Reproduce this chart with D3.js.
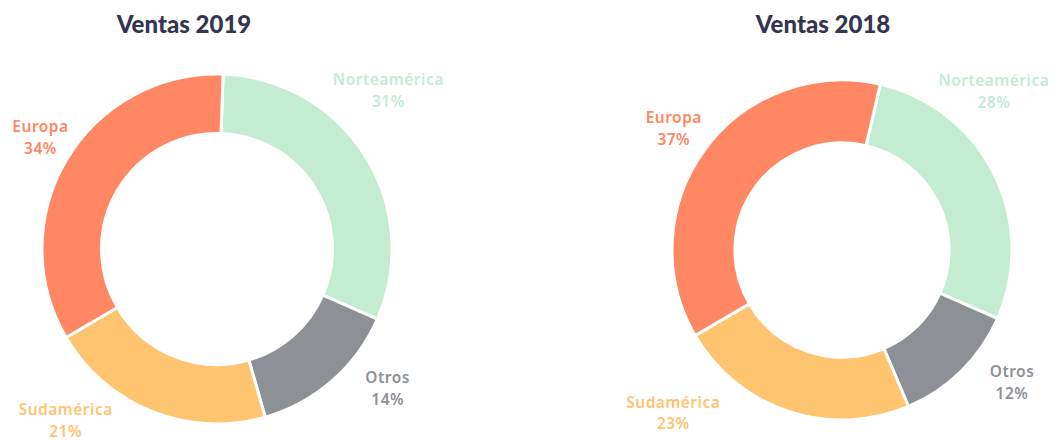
<!DOCTYPE html>
<html lang="es">
<head>
<meta charset="UTF-8">
<title>Ventas</title>
<script src="https://cdn.jsdelivr.net/npm/d3@7"></script>
<style>
  body { margin: 0; background: #fff; }
  .title { font-family: Lato, "Open Sans", sans-serif; font-weight: 900; font-size: 24px; fill: #35354f; }
  .lbl { font-family: "Noto Sans", sans-serif; font-weight: 600; font-size: 15.5px; letter-spacing: 0.5px; }
</style>
</head>
<body>
<script>
// data
const regions = ['Norteamérica', 'Otros', 'Sudamérica', 'Europa'];
const sales2019 = [31, 14, 21, 34];
const sales2018 = [28, 12, 23, 37];
const titles = ['Ventas 2019', 'Ventas 2018'];

const colors = d3.scaleOrdinal()
  .domain(regions)
  .range(['#c4ecd3', '#8d9095', '#ffc46f', '#ff8763']);

const width = 1057, height = 442;

const svg = d3.select('body').append('svg')
  .attr('width', width)
  .attr('height', height);

// layout of each donut (centre, radius, rotation, label tweaks in degrees)
const charts = [
  {title: titles[0], values: sales2019, cx: 217, cy: 249, r: 175, inner: 0.66, start: 2,
   titleX: 184, labelR: [235, 219, 227, 210], labelShift: [-11, -10, 20, 2]},
  {title: titles[1], values: sales2018, cx: 842, cy: 250, r: 170, inner: 0.63, start: 13,
   titleX: 823, labelR: [221, 214, 233, 209], labelShift: [-20, -8, 28, 0]}
];

const toRad = Math.PI / 180;

charts.forEach(function (c) {
  const g = svg.append('g')
    .attr('transform', 'translate(' + c.cx + ',' + c.cy + ')');

  const pie = d3.pie()
    .sort(null)
    .startAngle(c.start * toRad)
    .endAngle((c.start + 360) * toRad)
    .value(function (d) { return d; });

  const arcs = pie(c.values);

  const arc = d3.arc()
    .innerRadius(c.r * c.inner)
    .outerRadius(c.r);

  g.selectAll('path')
    .data(arcs)
    .enter()
    .append('path')
    .attr('d', arc)
    .attr('fill', function (d, i) { return colors(regions[i]); })
    .attr('stroke', '#fff')
    .attr('stroke-width', 3);

  const labels = g.selectAll('text.lbl')
    .data(arcs)
    .enter()
    .append('text')
    .attr('class', 'lbl')
    .attr('text-anchor', 'middle')
    .attr('fill', function (d, i) { return colors(regions[i]); })
    .attr('transform', function (d, i) {
      const a = (d.startAngle + d.endAngle) / 2 + c.labelShift[i] * toRad;
      const x = Math.sin(a) * c.labelR[i];
      const y = -Math.cos(a) * c.labelR[i];
      return 'translate(' + x + ',' + y + ')';
    });

  labels.append('tspan')
    .attr('x', 0)
    .attr('dy', '-0.2em')
    .text(function (d, i) { return regions[i]; });

  labels.append('tspan')
    .attr('x', 0)
    .attr('dy', '1.4em')
    .text(function (d) { return d.data + '%'; });

  svg.append('text')
    .attr('class', 'title')
    .attr('x', c.titleX)
    .attr('y', 33)
    .attr('text-anchor', 'middle')
    .text(c.title);
});
</script>
</body>
</html>
